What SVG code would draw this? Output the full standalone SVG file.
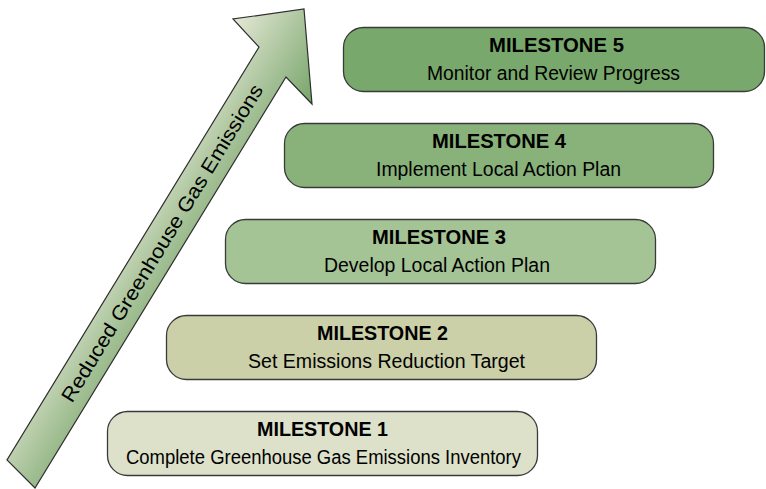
<svg xmlns="http://www.w3.org/2000/svg" width="766" height="489" viewBox="0 0 766 489">
  <defs>
    <linearGradient id="arrowGrad" gradientUnits="userSpaceOnUse" x1="233" y1="19" x2="327" y2="77">
      <stop offset="0" stop-color="#e4e8d6"/>
      <stop offset="1" stop-color="#78a56a"/>
    </linearGradient>
  </defs>
  <style>
    .box { stroke: #3a3a3a; stroke-width: 1.3; }
    .t1 { font-family: "Liberation Sans", Arial, sans-serif; font-size: 20px; font-weight: bold; fill: #000; text-anchor: middle; }
    .t2 { font-family: "Liberation Sans", Arial, sans-serif; font-size: 20px; fill: #000; text-anchor: middle; }
    .at { font-family: "Liberation Sans", Arial, sans-serif; font-size: 20px; fill: #000; text-anchor: middle; }
  </style>
  <rect width="766" height="489" fill="#ffffff"/>

  <g id="arrow">
    <polygon points="304,9 312,104 286,77 35,488 7,460 259,47 233,19" fill="url(#arrowGrad)" stroke="#2e2e2e" stroke-width="1.2" stroke-linejoin="miter"/>
    <text class="at" transform="translate(162,243) rotate(-58.6)" x="0" y="7" textLength="368" lengthAdjust="spacingAndGlyphs">Reduced Greenhouse Gas Emissions</text>
  </g>

  <g id="milestone1">
    <rect class="box" x="107.5" y="411.5" width="430" height="64" rx="20" ry="20" fill="#dde1c9"/>
    <text class="t1" x="322.5" y="435.5" textLength="131" lengthAdjust="spacingAndGlyphs">MILESTONE 1</text>
    <text class="t2" x="323.5" y="463.5" textLength="395" lengthAdjust="spacingAndGlyphs">Complete Greenhouse Gas Emissions Inventory</text>
  </g>

  <g id="milestone2">
    <rect class="box" x="166.5" y="315.5" width="430" height="64" rx="20" ry="20" fill="#cbd0a8"/>
    <text class="t1" x="382.5" y="339.5" textLength="131" lengthAdjust="spacingAndGlyphs">MILESTONE 2</text>
    <text class="t2" x="386.5" y="367.5" textLength="277" lengthAdjust="spacingAndGlyphs">Set Emissions Reduction Target</text>
  </g>

  <g id="milestone3">
    <rect class="box" x="225.5" y="219.5" width="430" height="64" rx="20" ry="20" fill="#a5c495"/>
    <text class="t1" x="439" y="243.5" textLength="134" lengthAdjust="spacingAndGlyphs">MILESTONE 3</text>
    <text class="t2" x="437" y="271.5" textLength="226" lengthAdjust="spacingAndGlyphs">Develop Local Action Plan</text>
  </g>

  <g id="milestone4">
    <rect class="box" x="284.5" y="123.5" width="429" height="64" rx="20" ry="20" fill="#88b27a"/>
    <text class="t1" x="499" y="147.5" textLength="134" lengthAdjust="spacingAndGlyphs">MILESTONE 4</text>
    <text class="t2" x="498.5" y="175.5" textLength="245" lengthAdjust="spacingAndGlyphs">Implement Local Action Plan</text>
  </g>

  <g id="milestone5">
    <rect class="box" x="343.5" y="27.5" width="421" height="64" rx="20" ry="20" fill="#78a86b"/>
    <text class="t1" x="556.5" y="51.5" textLength="135" lengthAdjust="spacingAndGlyphs">MILESTONE 5</text>
    <text class="t2" x="553.5" y="79.5" textLength="253" lengthAdjust="spacingAndGlyphs">Monitor and Review Progress</text>
  </g>
</svg>
